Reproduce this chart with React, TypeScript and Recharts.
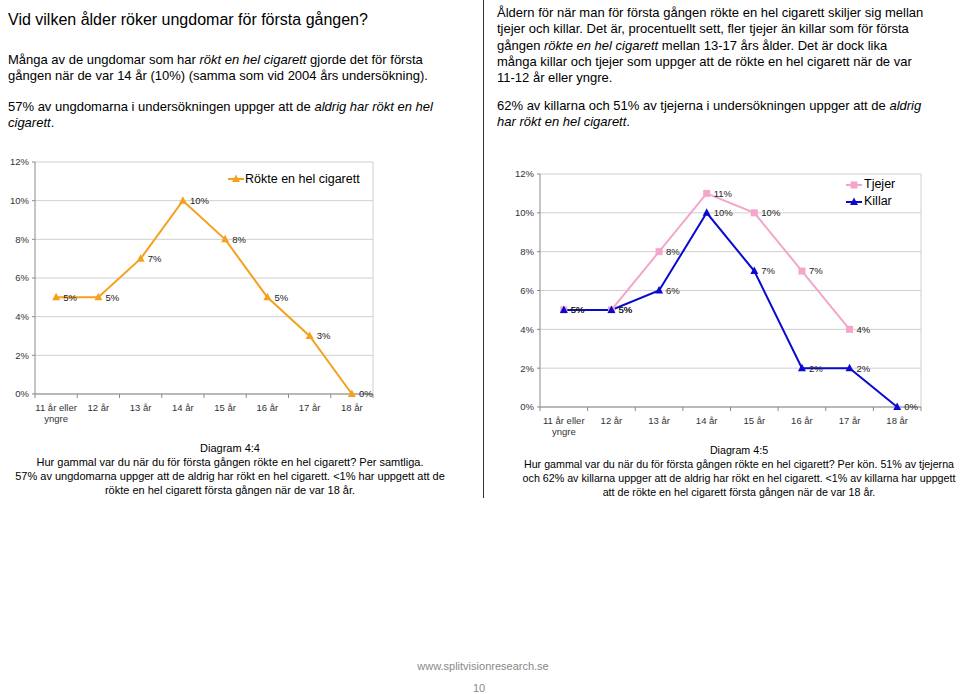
import { LineChart, Line, XAxis, YAxis, CartesianGrid, LabelList } from 'recharts'

// categories and values
const ages = ['11 år eller yngre', '12 år', '13 år', '14 år', '15 år', '16 år', '17 år', '18 år']
const samtliga = [5, 5, 7, 10, 8, 5, 3, 0]
const tjejer = [5, 5, 8, 11, 10, 7, 4, null]
const killar = [5, 5, 6, 10, 7, 2, 2, 0]
const yTicks = [0, 2, 4, 6, 8, 10, 12]

const dataAll = ages.map((age, i) => ({ age, value: samtliga[i] }))
const dataKon = ages.map((age, i) => ({ age, tjejer: tjejer[i], killar: killar[i] }))

const FONT = '"Liberation Sans", Arial, sans-serif'
const ORANGE = '#F4A11E'
const PINK = '#F3A6CA'
const BLUE = '#0A0ACF'
const GRID = '#cfcfcf'
const AXIS = '#8a8a8a'

const pct = (v: any) => (v == null ? '' : `${v}%`)

function triangleDot(color: string) {
  return (p: any) => {
    if (p.cy == null || p.value == null) return <g key={`t-${p.index}`} />
    const { cx, cy } = p
    return (
      <polygon
        key={`t-${p.index}`}
        points={`${cx},${cy - 4.5} ${cx - 4},${cy + 3} ${cx + 4},${cy + 3}`}
        fill={color}
      />
    )
  }
}

function squareDot(color: string) {
  return (p: any) => {
    if (p.cy == null || p.value == null) return <g key={`s-${p.index}`} />
    return <rect key={`s-${p.index}`} x={p.cx - 3.5} y={p.cy - 3.5} width={7} height={7} fill={color} />
  }
}

// x tick with two-line label and small marks at category boundaries
function makeAgeTick(band: number, last: string) {
  return (props: any) => {
    const { x, y, payload } = props
    const axisY = y - 8
    const lines = payload.value.includes('eller') ? ['11 år eller', 'yngre'] : [payload.value]
    return (
      <g>
        <line x1={x - band / 2} x2={x - band / 2} y1={axisY} y2={axisY + 4} stroke={AXIS} />
        {payload.value === last && (
          <line x1={x + band / 2} x2={x + band / 2} y1={axisY} y2={axisY + 4} stroke={AXIS} />
        )}
        <text x={x} y={y + 9} textAnchor="middle" fontSize={9.5} fill="#333" fontFamily={FONT}>
          {lines.map((l: string, i: number) => (
            <tspan key={i} x={x} dy={i === 0 ? 0 : 11}>
              {l}
            </tspan>
          ))}
        </text>
      </g>
    )
  }
}

const rightEdge = ({ offset }: any) => [offset.left + offset.width]

const abs = (left: number, top: number, extra: any = {}) => ({ position: 'absolute' as const, left, top, ...extra })

const BAND_L = 338 / 8
const BAND_R = 381 / 8

export default function App() {
  const para = { fontSize: 13, lineHeight: '16.3px', whiteSpace: 'nowrap' as const, color: '#000' }
  const caption = { lineHeight: '14px', textAlign: 'center' as const, whiteSpace: 'nowrap' as const }
  return (
    <div style={{ position: 'absolute', left: 0, top: 0, width: 960, height: 694, background: '#fff', fontFamily: FONT, overflow: 'hidden' }}>
      {/* left text */}
      <div style={abs(8, 10, { fontSize: 16, lineHeight: '20px', whiteSpace: 'nowrap' })}>
        Vid vilken ålder röker ungdomar för första gången?
      </div>
      <div style={abs(8, 52, para)}>
        Många av de ungdomar som har <i>rökt en hel cigarett</i> gjorde det för första
        <br />
        gången när de var 14 år (10%) (samma som vid 2004 års undersökning).
      </div>
      <div style={abs(8, 99, para)}>
        57% av ungdomarna i undersökningen uppger att de <i>aldrig har rökt en hel</i>
        <br />
        <i>cigarett</i>.
      </div>

      {/* right text */}
      <div style={abs(497, 5, para)}>
        Åldern för när man för första gången rökte en hel cigarett skiljer sig mellan
        <br />
        tjejer och killar. Det är, procentuellt sett, fler tjejer än killar som för första
        <br />
        gången <i>rökte en hel cigarett</i> mellan 13-17 års ålder. Det är dock lika
        <br />
        många killar och tjejer som uppger att de rökte en hel cigarett när de var
        <br />
        11-12 år eller yngre.
      </div>
      <div style={abs(497, 98, para)}>
        62% av killarna och 51% av tjejerna i undersökningen uppger att de <i>aldrig</i>
        <br />
        <i>har rökt en hel cigarett</i>.
      </div>

      {/* divider */}
      <div style={abs(483, 0, { width: 1, height: 498, background: '#333' })} />

      {/* Diagram 4:4 */}
      <div style={abs(0, 155)}>
        <LineChart width={400} height={270} data={dataAll} margin={{ top: 7, right: 27, left: 0, bottom: 1 }}>
          <CartesianGrid stroke={GRID} vertical={true} verticalCoordinatesGenerator={rightEdge} />
          <XAxis
            dataKey="age"
            interval={0}
            height={30}
            stroke={AXIS}
            padding={{ left: BAND_L / 2, right: BAND_L / 2 }}
            tickLine={false}
            tickSize={4}
            tickMargin={4}
            tick={makeAgeTick(BAND_L, '18 år')}
          />
          <YAxis
            width={35}
            domain={[0, 12]}
            ticks={yTicks}
            stroke={AXIS}
            tickSize={3}
            tickMargin={3}
            tickFormatter={pct}
            tick={{ fontSize: 9.5, fill: '#333', fontFamily: FONT }}
          />
          <Line
            dataKey="value"
            stroke={ORANGE}
            strokeWidth={2}
            dot={triangleDot(ORANGE)}
            isAnimationActive={false}
          >
            <LabelList dataKey="value" position="right" offset={7} formatter={pct} fontSize={9.5} fill="#222" fontFamily={FONT} />
          </Line>
        </LineChart>
      </div>
      <div style={abs(228, 171, { display: 'flex', alignItems: 'center', fontSize: 12.5 })}>
        <svg width={16} height={16}>
          <line x1={0} x2={16} y1={8} y2={8} stroke={ORANGE} strokeWidth={2} />
          <polygon points="8,3.5 4,11 12,11" fill={ORANGE} />
        </svg>
        <span style={{ marginLeft: 1 }}>Rökte en hel cigarett</span>
      </div>

      {/* Diagram 4:5 */}
      <div style={abs(500, 165)}>
        <LineChart width={442} height={273} data={dataKon} margin={{ top: 9, right: 21, left: 0, bottom: 1 }}>
          <CartesianGrid stroke={GRID} vertical={true} verticalCoordinatesGenerator={rightEdge} />
          <XAxis
            dataKey="age"
            interval={0}
            height={30}
            stroke={AXIS}
            padding={{ left: BAND_R / 2, right: BAND_R / 2 }}
            tickLine={false}
            tickSize={4}
            tickMargin={4}
            tick={makeAgeTick(BAND_R, '18 år')}
          />
          <YAxis
            width={40}
            domain={[0, 12]}
            ticks={yTicks}
            stroke={AXIS}
            tickSize={3}
            tickMargin={3}
            tickFormatter={pct}
            tick={{ fontSize: 9.5, fill: '#333', fontFamily: FONT }}
          />
          <Line
            dataKey="tjejer"
            stroke={PINK}
            strokeWidth={2}
            dot={squareDot(PINK)}
            isAnimationActive={false}
          >
            <LabelList dataKey="tjejer" position="right" offset={7} formatter={pct} fontSize={9.5} fill="#222" fontFamily={FONT} />
          </Line>
          <Line
            dataKey="killar"
            stroke={BLUE}
            strokeWidth={2}
            dot={triangleDot(BLUE)}
            isAnimationActive={false}
          >
            <LabelList dataKey="killar" position="right" offset={7} formatter={pct} fontSize={9.5} fill="#222" fontFamily={FONT} />
          </Line>
        </LineChart>
      </div>
      <div style={abs(846, 176, { fontSize: 12.5, lineHeight: '17px' })}>
        <div style={{ display: 'flex', alignItems: 'center' }}>
          <svg width={16} height={16}>
            <line x1={0} x2={16} y1={8} y2={8} stroke={PINK} strokeWidth={2} />
            <rect x={4.5} y={4.5} width={7} height={7} fill={PINK} />
          </svg>
          <span style={{ marginLeft: 2 }}>Tjejer</span>
        </div>
        <div style={{ display: 'flex', alignItems: 'center' }}>
          <svg width={16} height={16}>
            <line x1={0} x2={16} y1={8} y2={8} stroke={BLUE} strokeWidth={2} />
            <polygon points="8,3.5 4,11 12,11" fill={BLUE} />
          </svg>
          <span style={{ marginLeft: 2 }}>Killar</span>
        </div>
      </div>

      {/* captions */}
      <div style={abs(0, 441, { ...caption, fontSize: 11, width: 460 })}>
        Diagram 4:4
        <br />
        Hur gammal var du när du för första gången rökte en hel cigarett? Per samtliga.
        <br />
        57% av ungdomarna uppger att de aldrig har rökt en hel cigarett. &lt;1% har uppgett att de
        <br />
        rökte en hel cigarett första gången när de var 18 år.
      </div>
      <div style={abs(509, 443, { ...caption, fontSize: 10.7, width: 460 })}>
        Diagram 4:5
        <br />
        Hur gammal var du när du för första gången rökte en hel cigarett? Per kön. 51% av tjejerna
        <br />
        och 62% av killarna uppger att de aldrig har rökt en hel cigarett. &lt;1% av killarna har uppgett
        <br />
        att de rökte en hel cigarett första gången när de var 18 år.
      </div>

      {/* footer */}
      <div style={abs(0, 660, { width: 966, textAlign: 'center', fontSize: 11, color: '#888' })}>
        www.splitvisionresearch.se
      </div>
      <div style={abs(0, 682, { width: 958, textAlign: 'center', fontSize: 11, color: '#888' })}>10</div>
    </div>
  )
}
